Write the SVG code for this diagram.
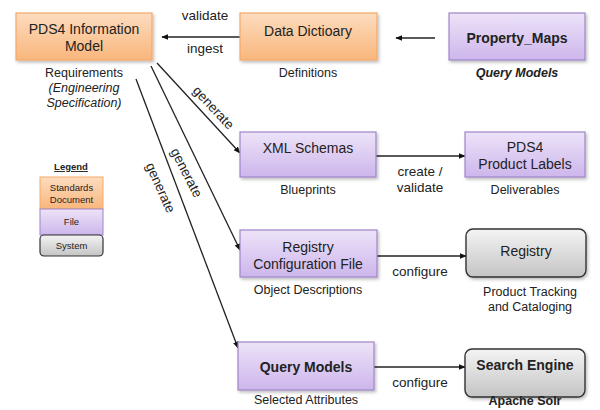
<svg xmlns="http://www.w3.org/2000/svg" width="600" height="410" viewBox="0 0 600 410">
<defs>
<linearGradient id="gOr" x1="0" y1="0" x2="0" y2="1"><stop offset="0" stop-color="#fddcbf"/><stop offset="1" stop-color="#f9b67c"/></linearGradient>
<linearGradient id="gPu" x1="0" y1="0" x2="0" y2="1"><stop offset="0" stop-color="#ede3f8"/><stop offset="1" stop-color="#cdb6ec"/></linearGradient>
<linearGradient id="gGr" x1="0" y1="0" x2="0" y2="1"><stop offset="0" stop-color="#f4f4f4"/><stop offset="1" stop-color="#c4c4c4"/></linearGradient>
<filter id="sh" x="-10%" y="-10%" width="130%" height="140%"><feDropShadow dx="1.5" dy="2" stdDeviation="1.5" flood-color="#000" flood-opacity="0.25"/></filter>
<marker id="ah" viewBox="0 0 10 10" refX="9" refY="5" markerWidth="7" markerHeight="7" orient="auto-start-reverse" markerUnits="userSpaceOnUse"><path d="M0,1 L10,5 L0,9 z" fill="#111"/></marker>
<style>
text{font-family:"Liberation Sans",Arial,sans-serif;fill:#222;}
.t{font-size:14px;text-anchor:middle;}
.b{font-weight:bold;}
.s{font-size:12.5px;text-anchor:middle;}
.lb{font-size:13.5px;text-anchor:middle;}
.or{fill:url(#gOr);stroke:#f3a96a;stroke-width:1.2;filter:url(#sh);}
.pu{fill:url(#gPu);stroke:#9d86c8;stroke-width:1.2;filter:url(#sh);}
.gr{fill:url(#gGr);stroke:#333;stroke-width:1.4;filter:url(#sh);}
.c{stroke:#222;stroke-width:1.3;fill:none;marker-end:url(#ah);}
.lg{font-size:9.5px;text-anchor:middle;}
</style>
</defs>

<g id="connectors">
<line class="c" x1="240" y1="37" x2="162" y2="37"/>
<line class="c" x1="435" y1="38" x2="396" y2="38"/>
<line class="c" x1="157" y1="63" x2="240" y2="153"/>
<line class="c" x1="151" y1="66" x2="240" y2="250"/>
<line class="c" x1="136" y1="79" x2="238" y2="348"/>
<line class="c" x1="376" y1="156" x2="465" y2="156"/>
<line class="c" x1="377" y1="256" x2="466" y2="256"/>
<line class="c" x1="374" y1="367" x2="465" y2="367"/>
<text class="lb" x="205" y="20">validate</text>
<text class="lb" x="205" y="53">ingest</text>
<text class="lb" transform="translate(213,108) rotate(47)" y="4">generate</text>
<text class="lb" transform="translate(186,173) rotate(63)" y="4">generate</text>
<text class="lb" transform="translate(160,188) rotate(66)" y="4">generate</text>
<text class="lb" x="420" y="176">create /</text>
<text class="lb" x="420" y="192">validate</text>
<text class="lb" x="420" y="276">configure</text>
<text class="lb" x="420" y="387">configure</text>
</g>

<g id="pds4-im">
<rect class="or" x="16" y="13" width="136" height="47"/>
<text class="t" x="84" y="34">PDS4 Information</text>
<text class="t" x="84" y="51">Model</text>
<text class="s" x="84" y="77">Requirements</text>
<text class="s" x="84" y="92" font-style="italic">(Engineering</text>
<text class="s" x="84" y="107" font-style="italic">Specification)</text>
</g>

<g id="data-dictionary">
<rect class="or" x="240" y="13" width="137" height="47"/>
<text class="t" x="308" y="36">Data Dictioary</text>
<text class="s" x="308" y="77">Definitions</text>
</g>

<g id="property-maps">
<rect class="pu" x="449" y="13" width="136" height="47"/>
<text class="t b" x="517" y="43">Property_Maps</text>
<text class="s b" x="517" y="77" font-style="italic">Query Models</text>
</g>

<g id="xml-schemas">
<rect class="pu" x="240" y="132" width="136" height="45"/>
<text class="t" x="308" y="153">XML Schemas</text>
<text class="s" x="308" y="194">Blueprints</text>
</g>

<g id="product-labels">
<rect class="pu" x="465" y="132" width="120" height="45"/>
<text class="t" x="525" y="152">PDS4</text>
<text class="t" x="525" y="169">Product Labels</text>
<text class="s" x="525" y="194">Deliverables</text>
</g>

<g id="registry-config">
<rect class="pu" x="240" y="230" width="137" height="47"/>
<text class="t" x="308" y="252">Registry</text>
<text class="t" x="308" y="269">Configuration File</text>
<text class="s" x="308" y="294">Object Descriptions</text>
</g>

<g id="registry">
<rect class="gr" x="466" y="229" width="120" height="48" rx="7"/>
<text class="t" x="526" y="256">Registry</text>
<text class="s" x="530" y="296">Product Tracking</text>
<text class="s" x="530" y="311">and Cataloging</text>
</g>

<g id="query-models">
<rect class="pu" x="238" y="342" width="136" height="48"/>
<text class="t b" x="306" y="372">Query Models</text>
<text class="s" x="306" y="404">Selected Attributes</text>
</g>

<g id="search-engine">
<rect class="gr" x="465" y="349" width="120" height="48" rx="7"/>
<text class="t b" x="525" y="370">Search Engine</text>
<text class="s b" x="525" y="405">Apache Solr</text>
</g>

<g id="legend">
<text class="lg b" x="71" y="170" font-size="10" text-decoration="underline">Legend</text>
<rect x="40" y="177" width="63" height="32" fill="url(#gOr)" stroke="#f3a96a" stroke-width="1"/>
<text class="lg" x="71.5" y="191">Standards</text>
<text class="lg" x="71.5" y="203">Document</text>
<rect x="40" y="209" width="63" height="26" fill="url(#gPu)" stroke="#9d86c8" stroke-width="1"/>
<text class="lg" x="71.5" y="225">File</text>
<rect x="40" y="235" width="63" height="21" rx="4" fill="url(#gGr)" stroke="#333" stroke-width="1.2"/>
<text class="lg" x="71.5" y="249">System</text>
</g>
</svg>
